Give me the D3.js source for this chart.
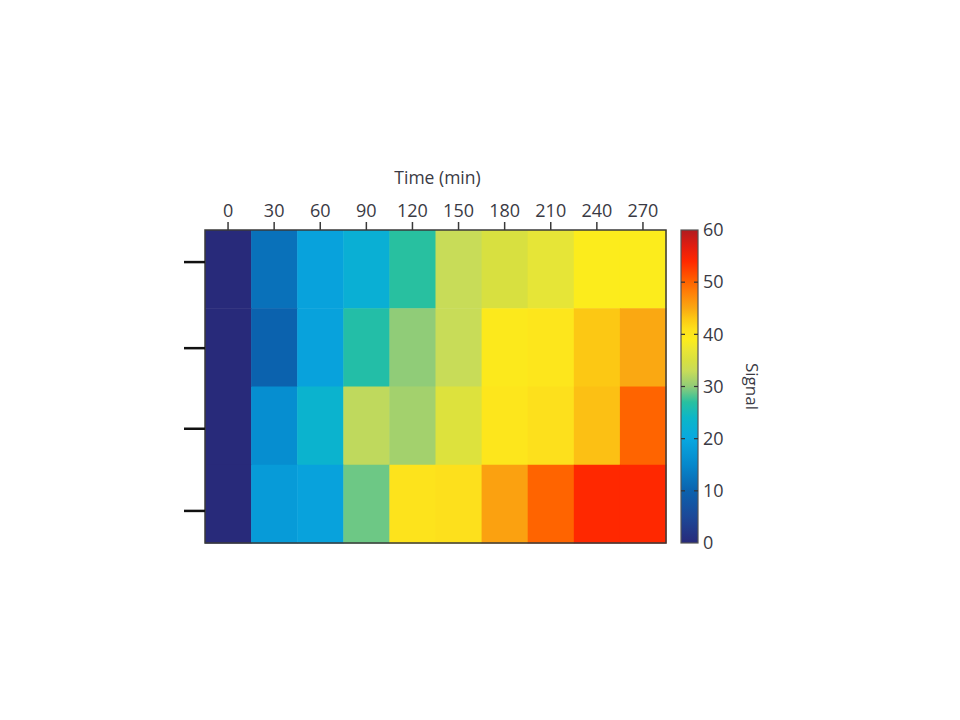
<!DOCTYPE html>
<html>
<head>
<meta charset="utf-8">
<script src="https://cdn.jsdelivr.net/npm/d3@7"></script>
<style>
body { margin: 0; background: #fff; }
text { font-family: "Open Sans", "Noto Sans", sans-serif; fill: #3a3a44; }
</style>
</head>
<body>
<svg id="chart" width="960" height="720"></svg>
<script>
// data
var times = [0, 30, 60, 90, 120, 150, 180, 210, 240, 270];
var rows = ["r1", "r2", "r3", "r4"];
var row1 = [0, 12, 19, 22, 27, 33, 35, 36.5, 39, 39];
var row2 = [0, 10, 19, 26.5, 30, 33, 39.5, 40, 43, 45];
var row3 = [0, 16, 23, 32.5, 31, 35.5, 40, 41, 43.5, 50];
var row4 = [0, 18, 19, 29, 40.5, 41, 45.5, 50, 54, 54];
var signalTicks = [0, 10, 20, 30, 40, 50, 60];
var leftTicks = [0.41, 1.51, 2.54, 3.59]; // row units, ticks on left edge

// colormap stops
var cmapStops = [0, 5, 10, 15, 20, 24, 27, 30, 33, 35, 37, 39, 41, 43, 45, 48, 50, 54, 57, 60];
var cmapColors = ["#282a7a", "#1c4898", "#0b62ae", "#0688cc", "#08a8e0", "#0cb6c8", "#28c0a0",
	"#90cc78", "#c8dc58", "#d8e040", "#eae634", "#fcec1c", "#fde01c", "#fcc814", "#faa812",
	"#ff8008", "#ff6400", "#ff2800", "#e01c10", "#b01c20"];

var svg = d3.select("#chart"),
	margin = {top: 230, left: 205},
	width = 461,
	height = 313;

var x = d3.scaleBand().domain(times).range([0, width]),
	y = d3.scaleBand().domain(rows).range([0, height]),
	yLin = d3.scaleLinear().domain([0, rows.length]).range([0, height]),
	color = d3.scaleLinear().domain(cmapStops).range(cmapColors).clamp(true);

var cells = [];
[row1, row2, row3, row4].forEach(function(vals, i){
	vals.forEach(function(v, j){
		cells.push({row: rows[i], time: times[j], value: v});
	});
});

var plot = svg.append("g")
	.attr("transform", "translate(" + margin.left + "," + margin.top + ")");

plot.selectAll("rect.cell")
	.data(cells).enter()
	.append("rect")
	.attr("class", "cell")
	.attr("x", function(d){ return x(d.time); })
	.attr("y", function(d){ return y(d.row); })
	.attr("width", x.bandwidth() + 0.5)
	.attr("height", y.bandwidth() + 0.5)
	.attr("fill", function(d){ return color(d.value); });

plot.append("rect")
	.attr("width", width)
	.attr("height", height)
	.attr("fill", "none")
	.attr("stroke", "#3a3a3a")
	.attr("stroke-width", 1.5);

// top axis
var xAxis = plot.append("g")
	.call(d3.axisTop(x).tickSize(8).tickPadding(5));
xAxis.select(".domain").remove();
xAxis.selectAll("line").attr("stroke", "#3a3a3a").attr("stroke-width", 1.5);
xAxis.selectAll("text")
	.style("font-size", "18px")
	.style("font-family", "'Open Sans', sans-serif")
	.attr("fill", "#3a3a44");

plot.append("text")
	.attr("x", width / 2 + 2)
	.attr("y", -46)
	.attr("text-anchor", "middle")
	.style("font-size", "17.5px")
	.text("Time (min)");

// left ticks
plot.selectAll("line.lt")
	.data(leftTicks).enter()
	.append("line")
	.attr("class", "lt")
	.attr("x1", -21).attr("x2", 0)
	.attr("y1", function(d){ return yLin(d); })
	.attr("y2", function(d){ return yLin(d); })
	.attr("stroke", "#111")
	.attr("stroke-width", 2.5);

// colorbar
var cb = {x: 681, w: 17};
var cy = d3.scaleLinear().domain([0, 60]).range([margin.top + height, margin.top]);

var grad = svg.append("defs").append("linearGradient")
	.attr("id", "cbar")
	.attr("x1", 0).attr("y1", 1).attr("x2", 0).attr("y2", 0);
grad.selectAll("stop")
	.data(cmapStops).enter()
	.append("stop")
	.attr("offset", function(d){ return d / 60; })
	.attr("stop-color", function(d){ return color(d); });

svg.append("rect")
	.attr("x", cb.x).attr("y", cy(60))
	.attr("width", cb.w).attr("height", cy(0) - cy(60))
	.attr("fill", "url(#cbar)")
	.attr("stroke", "#555")
	.attr("stroke-width", 1.2);

var cbTicks = svg.append("g");
signalTicks.slice(1, -1).forEach(function(t){
	cbTicks.append("line")
		.attr("x1", cb.x).attr("x2", cb.x + 4)
		.attr("y1", cy(t)).attr("y2", cy(t))
		.attr("stroke", "#333").attr("stroke-width", 1.2);
	cbTicks.append("line")
		.attr("x1", cb.x + cb.w - 4).attr("x2", cb.x + cb.w)
		.attr("y1", cy(t)).attr("y2", cy(t))
		.attr("stroke", "#333").attr("stroke-width", 1.2);
});

svg.selectAll("text.cbl")
	.data(signalTicks).enter()
	.append("text")
	.attr("class", "cbl")
	.attr("x", cb.x + cb.w + 5)
	.attr("y", function(d){ return cy(d); })
	.attr("dy", "0.35em")
	.style("font-size", "18px")
	.text(function(d){ return d; });

svg.append("text")
	.attr("transform", "translate(746," + (margin.top + height / 2) + ") rotate(90)")
	.attr("text-anchor", "middle")
	.style("font-size", "17px")
	.text("Signal");
</script>
</body>
</html>
